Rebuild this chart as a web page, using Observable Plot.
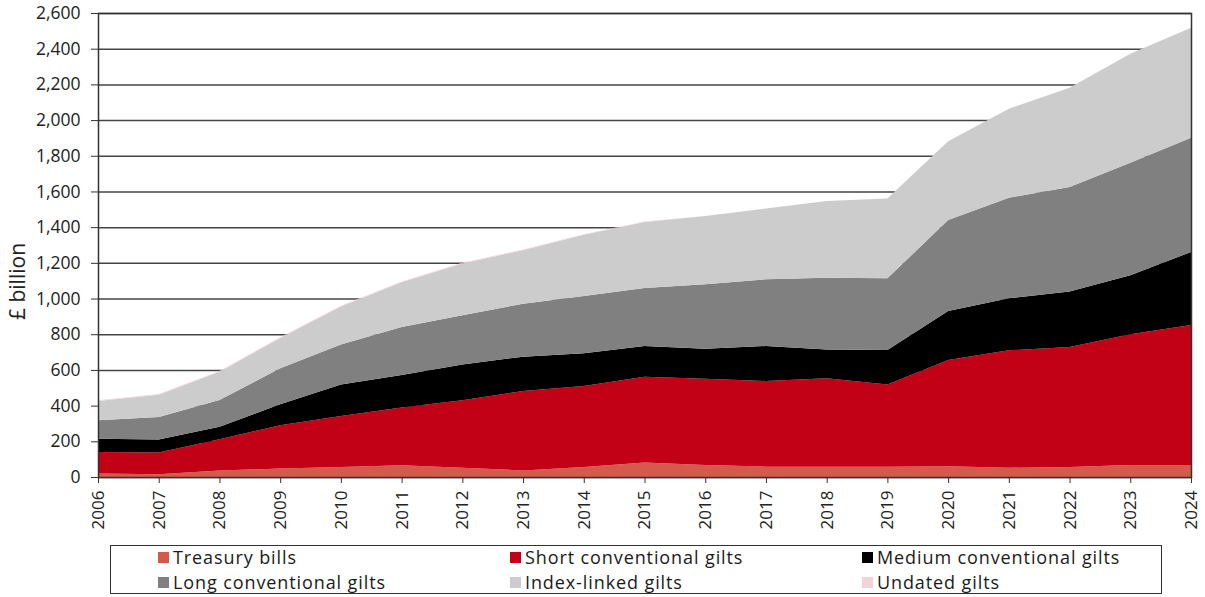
<!DOCTYPE html>
<html>
<head>
<meta charset="utf-8">
<script src="https://cdn.jsdelivr.net/npm/d3@7"></script>
<script src="https://cdn.jsdelivr.net/npm/@observablehq/plot@0.6"></script>
<style>
  body { margin: 0; background: #fff; font-family: "Open Sans", sans-serif; }
  #wrap { position: relative; width: 1205px; height: 597px; }
  #legend { position: absolute; left: 110px; top: 545px; width: 1052px; height: 49px;
            border: 1px solid #333; box-sizing: border-box; font-size: 18px; letter-spacing: 0.9px; color: #1a1a1a; }
  .item { position: absolute; display: flex; align-items: center; white-space: nowrap; line-height: 22px; }
  .sw { width: 11px; height: 11px; margin-right: 4px; }
</style>
</head>
<body>
<div id="wrap"><div id="chart"></div><div id="legend"></div></div>
<script>
const years = [2006,2007,2008,2009,2010,2011,2012,2013,2014,2015,2016,2017,2018,2019,2020,2021,2022,2023,2024];
const treasuryBills = [19,15,37,47,56,66,52,37,56,81,67,58,58,58,60,52,56,67,67];
const shortGilts    = [121,122,174,243,286,323,378,445,454,481,484,480,495,461,595,658,672,733,785];
const mediumGilts   = [75,73,71,117,177,182,201,192,183,172,168,196,162,192,275,291,311,330,409];
const longGilts     = [103,126,149,202,224,269,275,297,321,325,361,374,402,402,510,564,586,631,640];
const indexLinked   = [108,125,159,170,213,251,291,300,343,370,382,396,429,447,442,499,556,611,617];
const undatedGilts  = [4,4,4,4,4,4,4,4,3,2,0,0,0,0,0,0,0,0,0];
const seriesNames = ["Treasury bills","Short conventional gilts","Medium conventional gilts","Long conventional gilts","Index-linked gilts","Undated gilts"];
const seriesColors = ["#d65a4c","#c20016","#000000","#808080","#cccccc","#f2d3d6"];
const yTicks = d3.range(0, 2601, 200);

const seriesValues = [treasuryBills, shortGilts, mediumGilts, longGilts, indexLinked, undatedGilts];
const data = [];
seriesNames.forEach((name, i) => years.forEach((yr, j) => data.push({year: yr, series: name, value: seriesValues[i][j]})));

const chart = Plot.plot({
  width: 1205,
  height: 540,
  marginLeft: 98,
  marginRight: 14,
  marginTop: 13,
  marginBottom: 63,
  style: {fontFamily: "Open Sans, sans-serif", fontSize: "17px", color: "#222", background: "#fff"},
  x: {domain: [2006, 2024], label: null},
  y: {domain: [0, 2600], label: null},
  color: {domain: seriesNames, range: seriesColors},
  marks: [
    Plot.ruleY(yTicks, {stroke: "#444", strokeWidth: 1.5}),
    Plot.areaY(data, {x: "year", y: "value", fill: "series", z: "series", order: seriesNames}),
    Plot.frame({stroke: "#333", strokeWidth: 1.5}),
    Plot.axisX({ticks: years, tickFormat: d => String(d), tickRotate: -90, tickSize: 6, tickPadding: 7, fontSize: 17, stroke: "#333"}),
    Plot.axisY({ticks: yTicks, tickFormat: d3.format(","), tickSize: 7, tickPadding: 11, fontSize: 17.5, stroke: "#333"}),
    Plot.text(["£ billion"], {frameAnchor: "left", dx: -80, dy: 36, rotate: -90, textAnchor: "middle", fontSize: 21, fill: "#222"})
  ]
});
document.getElementById("chart").appendChild(chart);

const legend = document.getElementById("legend");
const cols = [47, 399, 751];
seriesNames.forEach((name, i) => {
  const div = document.createElement("div");
  div.className = "item";
  div.style.left = cols[i % 3] + "px";
  div.style.top = (i < 3 ? 0 : 25) + "px";
  div.innerHTML = `<span class="sw" style="background:${seriesColors[i]}"></span><span>${name}</span>`;
  legend.appendChild(div);
});
</script>
</body>
</html>
